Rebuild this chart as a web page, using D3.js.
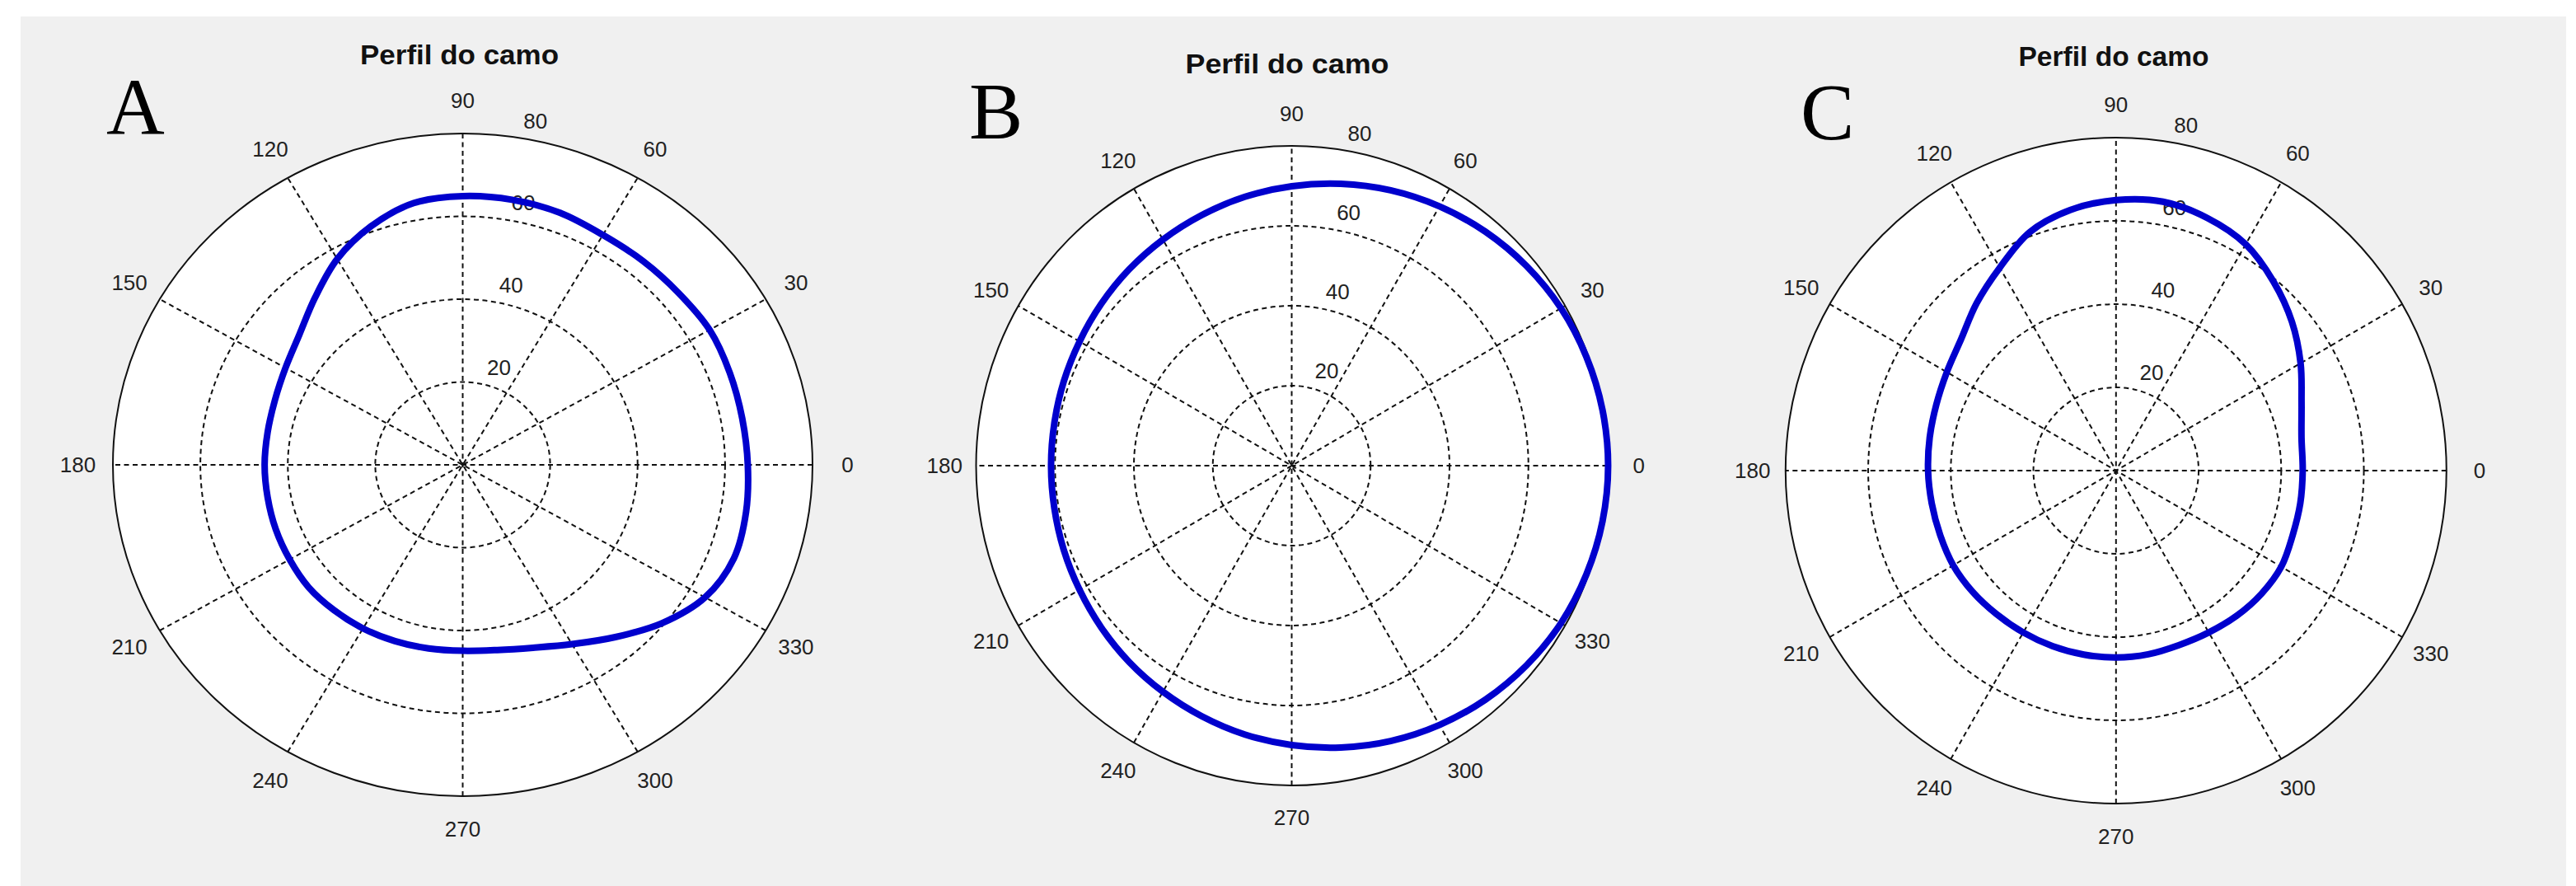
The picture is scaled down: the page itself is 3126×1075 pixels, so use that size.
<!DOCTYPE html>
<html><head><meta charset="utf-8">
<script src="https://cdn.jsdelivr.net/npm/d3@7"></script>
<style>body{margin:0;background:#fff;} svg{display:block}</style>
</head><body>
<svg id="chart" width="3126" height="1075"></svg>
<script>
// ---- data ----
const angles = [0,10,20,30,40,50,60,70,80,90,100,110,120,130,140,150,160,170,
                180,190,200,210,220,230,240,250,260,270,280,290,300,310,320,330,340,350];
const rhoA = [65.2,64.9,65.0,65.2,64.5,64.2,64.1,64.8,65.0,64.9,64.2,61.3,57.4,52.6,48.8,46.8,45.7,45.3,
              45.3,45.3,45.5,45.7,46.0,45.8,45.6,45.3,45.0,44.9,45.4,47.0,50.0,54.3,59.5,64.0,66.0,65.8];
const rhoB = [80.2,80.0,79.5,78.8,77.7,76.4,74.9,73.3,71.6,69.9,68.3,66.7,65.3,64.1,63.0,62.1,61.5,61.1,
              61.0,61.1,61.5,62.1,63.0,64.1,65.3,66.7,68.3,69.9,71.6,73.3,74.9,76.4,77.7,78.8,79.5,80.0];
const rhoC = [45.2,45.6,47.8,51.6,55.6,59.3,62.8,64.6,65.6,65.0,63.6,61.0,56.3,52.5,49.0,47.3,46.3,45.8,
              45.5,45.3,45.3,45.5,45.3,45.0,44.9,44.9,44.9,44.9,44.8,44.6,44.9,45.5,46.0,46.2,45.5,45.3];
const ringTicks = [20,40,60];
const rMax = 80;
const spokeLabels = [0,30,60,90,120,150,180,210,240,270,300,330];
const panelLetters = ["A","B","C"];
const titleText = "Perfil do camo";

// ---- layout ----
const panels = [
  {letter:panelLetters[0], rho:rhoA, cx:561.5, cy:564, rx:424.5, ry:402, tx:557.5, ty:78, tw:241, lx:129, ly:162},
  {letter:panelLetters[1], rho:rhoB, cx:1567.5, cy:565, rx:383, ry:388, tx:1562, ty:89, tw:247, lx:1176, ly:168},
  {letter:panelLetters[2], rho:rhoC, cx:2567.8, cy:571, rx:401, ry:404, tx:2565, ty:80, tw:231, lx:2185, ly:169}
];

const svg = d3.select("#chart");
svg.append("rect").attr("width",3126).attr("height",1075).attr("fill","#ffffff");
svg.append("rect").attr("x",25).attr("y",20).attr("width",3089).attr("height",1055).attr("fill","#f0f0f0");

const rad = d => d*Math.PI/180;
const gridStyle = s => s.attr("stroke","#111").attr("stroke-width",2).attr("stroke-dasharray","6,4.5").attr("fill","none");
const FONT = "'Liberation Sans', Arial, Helvetica, sans-serif";

panels.forEach(p => {
  const sx = d3.scaleLinear().domain([0,rMax]).range([0,p.rx]);
  const sy = d3.scaleLinear().domain([0,rMax]).range([0,p.ry]);
  const X = (r,a) => p.cx + sx(r)*Math.cos(rad(a));
  const Y = (r,a) => p.cy - sy(r)*Math.sin(rad(a));
  const g = svg.append("g");

  // white disc
  g.append("ellipse").attr("cx",p.cx).attr("cy",p.cy).attr("rx",sx(rMax)).attr("ry",sy(rMax))
    .attr("fill","#ffffff");

  // rings
  g.selectAll(".ring").data(ringTicks).join("ellipse")
    .attr("cx",p.cx).attr("cy",p.cy).attr("rx",d=>sx(d)).attr("ry",d=>sy(d)).call(gridStyle);

  // spokes
  g.selectAll(".spoke").data([30,60,90,120,150,180]).join("line")
    .attr("x1",d=>X(rMax,d+180)).attr("y1",d=>Y(rMax,d+180))
    .attr("x2",d=>X(rMax,d)).attr("y2",d=>Y(rMax,d)).call(gridStyle);

  // outer circle
  g.append("ellipse").attr("cx",p.cx).attr("cy",p.cy).attr("rx",sx(rMax)).attr("ry",sy(rMax))
    .attr("fill","none").attr("stroke","#111").attr("stroke-width",2);

  // rho labels (at 82 degrees)
  g.selectAll(".rl").data(ringTicks.concat([rMax])).join("text")
    .attr("x",d=>X(d+1,82)+14).attr("y",d=>Y(d+1,82)-5)
    .attr("font-family",FONT).attr("font-size",26).attr("fill","#222")
    .text(d=>d);

  // spoke labels
  g.selectAll(".sl").data(spokeLabels).join("text")
    .attr("x",d=>X(1.1*rMax,d)).attr("y",d=>Y(1.1*rMax,d))
    .attr("text-anchor","middle").attr("dominant-baseline","central")
    .attr("font-family",FONT).attr("font-size",26).attr("fill","#222")
    .text(d=>d);

  // profile curve
  const pts = angles.map((a,i)=>({a:a, r:p.rho[i]}));
  const line = d3.line().x(d=>X(d.r,d.a)).y(d=>Y(d.r,d.a)).curve(d3.curveCatmullRomClosed.alpha(0.5));
  g.append("path").attr("d",line(pts)).attr("fill","none")
    .attr("stroke","#0000cd").attr("stroke-width",8).attr("stroke-linejoin","round");

  // title
  g.append("text").attr("x",p.tx).attr("y",p.ty).attr("text-anchor","middle")
    .attr("font-family",FONT).attr("font-weight","bold").attr("font-size",32.5)
    .attr("textLength",p.tw).attr("lengthAdjust","spacingAndGlyphs").attr("fill","#111")
    .text(titleText);

  // panel letter
  g.append("text").attr("x",p.lx).attr("y",p.ly)
    .attr("font-family","'Liberation Serif','Times New Roman',serif").attr("font-size",98).attr("fill","#000")
    .text(p.letter);
});
</script>
</body></html>
